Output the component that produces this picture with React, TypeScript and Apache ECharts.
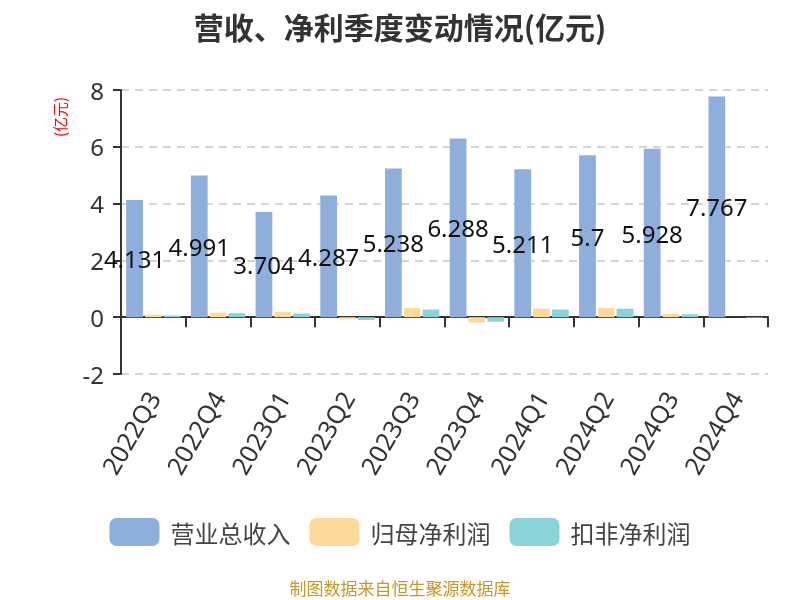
import React, { useEffect, useRef } from "react";
import * as echarts from "echarts";

const categories = ["2022Q3", "2022Q4", "2023Q1", "2023Q2", "2023Q3", "2023Q4", "2024Q1", "2024Q2", "2024Q3", "2024Q4"];
const revenue = [4.131, 4.991, 3.704, 4.287, 5.238, 6.288, 5.211, 5.7, 5.928, 7.767];
const netProfit = [0.09, 0.16, 0.18, -0.06, 0.32, -0.19, 0.3, 0.32, 0.12, null];
const deductedProfit = [0.06, 0.14, 0.13, -0.1, 0.27, -0.16, 0.27, 0.3, 0.1, -0.02];
const yTicks = [-2, 0, 2, 4, 6, 8];

export default function App() {
  const ref = useRef<HTMLDivElement>(null);
  useEffect(() => {
    const chart = echarts.init(ref.current!, undefined, { renderer: "svg" });
    const font = "'Noto Sans', 'Noto Sans CJK SC', sans-serif";
    const cjk = "'Noto Sans CJK SC', sans-serif";
    chart.setOption({
      animation: false,
      textStyle: { fontFamily: font },
      title: {
        text: "营收、净利季度变动情况(亿元)",
        left: "center",
        top: 6,
        textStyle: { fontSize: 30, fontWeight: "bold", color: "#333", fontFamily: cjk },
      },
      grid: { left: 121, right: 32, top: 90, bottom: 226 },
      legend: {
        bottom: 49,
        left: "center",
        itemWidth: 50,
        itemHeight: 28,
        itemGap: 19,
        textStyle: { fontSize: 24, color: "#444", fontFamily: cjk, padding: [0, 0, 0, 6] },
        data: ["营业总收入", "归母净利润", "扣非净利润"],
      },
      graphic: [
        {
          type: "text",
          x: 52,
          y: 137,
          rotation: Math.PI / 2,
          style: { text: "(亿元)", fill: "#ff0000", fontSize: 15, fontFamily: cjk },
        },
        {
          type: "text",
          x: 400,
          y: 587,
          style: {
            text: "制图数据来自恒生聚源数据库",
            fill: "#c8962a",
            fontSize: 17,
            fontFamily: cjk,
            align: "center",
            verticalAlign: "middle",
          },
        },
      ],
      xAxis: {
        type: "category",
        data: categories,
        axisLine: { onZero: true, lineStyle: { color: "#333", width: 2 } },
        axisTick: { show: true, length: 10, lineStyle: { color: "#333", width: 2 } },
        axisLabel: { rotate: 60, fontSize: 25, color: "#333", margin: 19, interval: 0, fontFamily: font },
      },
      yAxis: {
        type: "value",
        min: yTicks[0],
        max: yTicks[yTicks.length - 1],
        interval: 2,
        axisLine: { show: true, lineStyle: { color: "#333", width: 2 } },
        axisTick: { show: true, length: 8, lineStyle: { color: "#333", width: 2 } },
        axisLabel: { fontSize: 24, color: "#333", margin: 17, fontFamily: font },
        splitLine: { lineStyle: { type: [8, 6], color: "#c8c8c8", width: 1.5 } },
      },
      series: [
        {
          name: "营业总收入",
          type: "bar",
          data: revenue,
          itemStyle: { color: "#8EAEDB" },
          barGap: "12%",
          barCategoryGap: "16%",
          label: { show: true, position: "inside", fontSize: 24, color: "#111", fontFamily: font },
        },
        {
          name: "归母净利润",
          type: "bar",
          data: netProfit,
          itemStyle: { color: "#FDD999" },
        },
        {
          name: "扣非净利润",
          type: "bar",
          data: deductedProfit,
          itemStyle: { color: "#88D4D8" },
        },
      ],
    });
    return () => chart.dispose();
  }, []);
  return <div ref={ref} style={{ position: "fixed", left: 0, top: 0, width: 800, height: 600 }} />;
}
